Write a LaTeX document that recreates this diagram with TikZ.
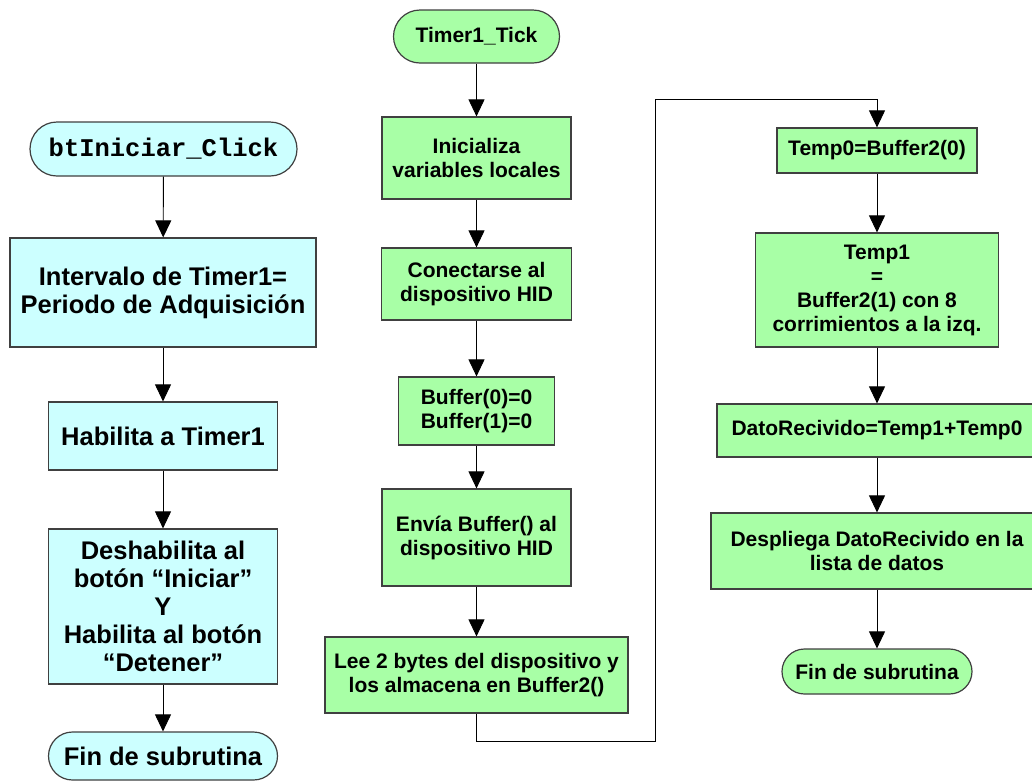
\documentclass[tikz,border=0pt]{standalone}
\usepackage{fontspec}
\setmainfont{Liberation Sans}
\newfontfamily\courfont{Liberation Mono}
\usetikzlibrary{arrows.meta}
\definecolor{cyanfill}{RGB}{204,255,255}
\definecolor{greenfill}{RGB}{168,255,166}
\definecolor{bordergray}{RGB}{64,64,64}
\tikzset{
  every node/.style={inner sep=0pt, align=center},
  bigtxt/.style={font=\fontsize{25.5}{28}\selectfont\bfseries},
  smalltxt/.style={font=\fontsize{21}{24}\selectfont\bfseries},
  cbox/.style={draw=bordergray, line width=1.2pt, fill=cyanfill, rectangle, bigtxt},
  gbox/.style={draw=bordergray, line width=1.2pt, fill=greenfill, rectangle, smalltxt},
  cterm/.style={cbox, rounded corners=#1},
  gterm/.style={gbox, rounded corners=#1},
  conn/.style={draw=black, line width=0.9pt, -{Triangle[length=17pt,width=16pt]}},
  plainconn/.style={draw=black, line width=0.9pt}
}
\begin{document}
\begin{tikzpicture}[x=1pt,y=-1pt]
\useasboundingbox (0,0) rectangle (1032,780);
\clip (0,0) rectangle (1032,780);
\fill[white] (0,0) rectangle (1032,780);
% Left column
\node[cterm=27pt, minimum width=267pt, minimum height=54pt] (t1) at (163.5,149) {\courfont\bfseries btIniciar\_Click};
\node[cbox, minimum width=306pt, minimum height=109pt] (b1) at (163,292.5) {Intervalo de Timer1=\\Periodo de Adquisición};
\node[cbox, minimum width=229pt, minimum height=68pt] (b2) at (163,436) {Habilita a Timer1};
\node[cbox, minimum width=229pt, minimum height=155pt] (b3) at (163,606.5) {Deshabilita al\\botón “Iniciar”\\Y\\Habilita al botón\\“Detener”};
\node[cterm=24pt, minimum width=229pt, minimum height=48pt] (t2) at (163,756) {Fin de subrutina};
\draw[conn] (t1) -- (b1);
\draw[conn] (b1) -- (b2);
\draw[conn] (b2) -- (b3);
\draw[conn] (b3) -- (t2);
% Middle column
\node[gterm=26.5pt, minimum width=166pt, minimum height=53pt] (m0) at (476.5,36.5) {Timer1\_Tick};
\node[gbox, minimum width=189pt, minimum height=82pt] (m1) at (476.5,158) {Inicializa\\variables locales};
\node[gbox, minimum width=190pt, minimum height=72pt] (m2) at (476.5,284) {Conectarse al\\dispositivo HID};
\node[gbox, minimum width=156pt, minimum height=68pt] (m3) at (476.5,411) {Buffer(0)=0\\Buffer(1)=0};
\node[gbox, minimum width=189pt, minimum height=97pt] (m4) at (476.5,537.5) {Envía Buffer() al\\dispositivo HID};
\node[gbox, minimum width=303pt, minimum height=76pt] (m5) at (476.5,675) {Lee 2 bytes del dispositivo y\\los almacena en Buffer2()};
\draw[conn] (m0) -- (m1);
\draw[conn] (m1) -- (m2);
\draw[conn] (m2) -- (m3);
\draw[conn] (m3) -- (m4);
\draw[conn] (m4) -- (m5);
% Right column
\node[gbox, minimum width=200pt, minimum height=45pt] (r0) at (877,150.5) {Temp0=Buffer2(0)};
\node[gbox, minimum width=243pt, minimum height=114pt] (r1) at (877,290) {Temp1\\=\\Buffer2(1) con 8\\corrimientos a la izq.};
\node[gbox, minimum width=320pt, minimum height=53pt] (r2) at (877,430.5) {DatoRecivido=Temp1+Temp0};
\node[gbox, minimum width=332pt, minimum height=76pt] (r3) at (877,551) {Despliega DatoRecivido en la\\lista de datos};
\node[gterm=22.5pt, minimum width=190pt, minimum height=45pt] (r4) at (877,671.5) {Fin de subrutina};
\draw[conn] (r0) -- (r1);
\draw[conn] (r1) -- (r2);
\draw[conn] (r2) -- (r3);
\draw[conn] (r3) -- (r4);
% Loop connector
\coordinate (lp1) at (476.5,741);
\coordinate (lp2) at (655,741);
\coordinate (lp3) at (655,99);
\coordinate (lp4) at (877,99);
\draw[conn] (m5.south) -- (lp1) -- (lp2) -- (lp3) -- (lp4) -- (r0.north);
\end{tikzpicture}
\end{document}
